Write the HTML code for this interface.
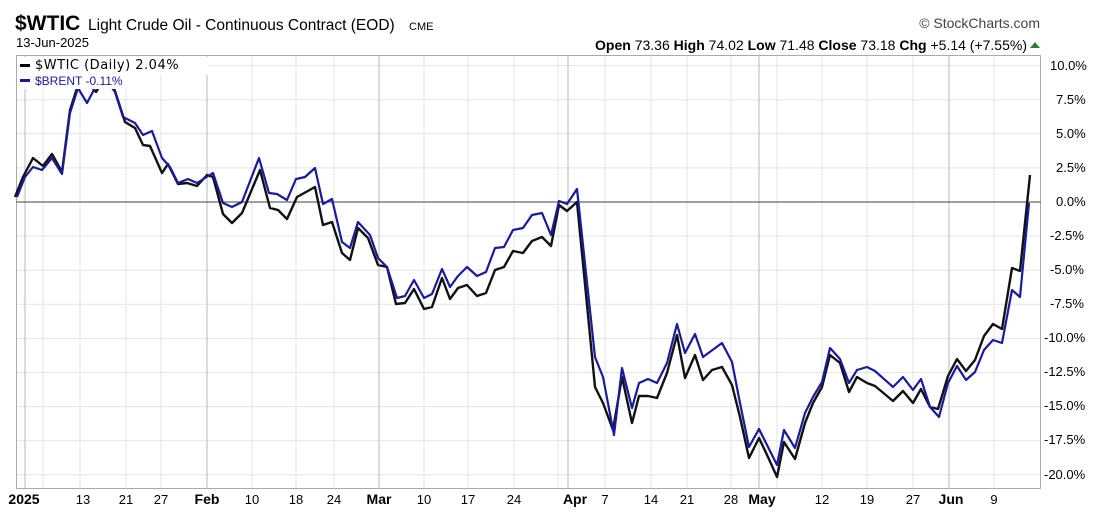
<!DOCTYPE html>
<html><head><meta charset="utf-8"><style>
html,body{margin:0;padding:0;background:#fff;}
svg{display:block;font-family:"Liberation Sans",Arial,sans-serif;}
</style></head><body>
<svg width="1116" height="512" viewBox="0 0 1116 512" xmlns="http://www.w3.org/2000/svg">
<rect width="1116" height="512" fill="#fff"/>
<text x="15" y="30" font-size="21" font-weight="bold" fill="#000">$WTIC</text>
<text x="88" y="30" font-size="15.5" fill="#000">Light Crude Oil - Continuous Contract (EOD)</text>
<text x="409" y="30" font-size="11" fill="#000">CME</text>
<text x="16" y="47" font-size="13" fill="#000">13-Jun-2025</text>
<text x="1040" y="28" font-size="14" fill="#444" text-anchor="end">© StockCharts.com</text>
<text x="1027" y="50" font-size="14" fill="#000" text-anchor="end"><tspan font-weight="bold">Open</tspan> 73.36  <tspan font-weight="bold">High</tspan> 74.02  <tspan font-weight="bold">Low</tspan> 71.48  <tspan font-weight="bold">Close</tspan> 73.18  <tspan font-weight="bold">Chg</tspan> +5.14 (+7.55%)</text>
<polygon points="1030,48 1040,48 1035,42" fill="#2e7d32"/>
<g stroke="#e3e3e3" stroke-width="1">
<line x1="16" x2="1041" y1="65.6" y2="65.6"/><line x1="16" x2="1041" y1="99.7" y2="99.7"/><line x1="16" x2="1041" y1="133.8" y2="133.8"/><line x1="16" x2="1041" y1="167.9" y2="167.9"/>
<line x1="16" x2="1041" y1="236.1" y2="236.1"/><line x1="16" x2="1041" y1="270.2" y2="270.2"/><line x1="16" x2="1041" y1="304.3" y2="304.3"/><line x1="16" x2="1041" y1="338.4" y2="338.4"/><line x1="16" x2="1041" y1="372.5" y2="372.5"/><line x1="16" x2="1041" y1="406.6" y2="406.6"/><line x1="16" x2="1041" y1="440.7" y2="440.7"/><line x1="16" x2="1041" y1="474.8" y2="474.8"/>
<line x1="43" x2="43" y1="55" y2="489"/><line x1="80" x2="80" y1="55" y2="489"/><line x1="126" x2="126" y1="55" y2="489"/><line x1="161" x2="161" y1="55" y2="489"/><line x1="252" x2="252" y1="55" y2="489"/><line x1="296" x2="296" y1="55" y2="489"/><line x1="334" x2="334" y1="55" y2="489"/><line x1="424" x2="424" y1="55" y2="489"/><line x1="468" x2="468" y1="55" y2="489"/><line x1="514" x2="514" y1="55" y2="489"/><line x1="558" x2="558" y1="55" y2="489"/><line x1="605" x2="605" y1="55" y2="489"/><line x1="651" x2="651" y1="55" y2="489"/><line x1="687" x2="687" y1="55" y2="489"/><line x1="731" x2="731" y1="55" y2="489"/><line x1="777" x2="777" y1="55" y2="489"/><line x1="822" x2="822" y1="55" y2="489"/><line x1="867" x2="867" y1="55" y2="489"/><line x1="913" x2="913" y1="55" y2="489"/><line x1="994" x2="994" y1="55" y2="489"/>
</g>
<g stroke="#c4c4c4" stroke-width="1.2">
<line x1="25" x2="25" y1="55" y2="489"/><line x1="207" x2="207" y1="55" y2="489"/><line x1="379" x2="379" y1="55" y2="489"/><line x1="568" x2="568" y1="55" y2="489"/><line x1="759" x2="759" y1="55" y2="489"/><line x1="949" x2="949" y1="55" y2="489"/>
</g>
<rect x="16.5" y="55.5" width="1024" height="433" fill="none" stroke="#aaa"/>
<line x1="16" x2="1041" y1="202" y2="202" stroke="#666" stroke-width="1.3"/>
<polyline fill="none" stroke="#111" stroke-width="2.4" stroke-linejoin="round" points="15,197 23,177 33,158 43,166 52,154 62,172 70,110 78,85 87,82 96,92 106,76 114,88 125,122 135,128 143,145 150,146 162,173 168,164 178,184 187,183 197,186 207,175 213,177 223,214 232,223 242,213 260,170 270,208 278,210 287,219 297,197 315,187 323,225 332,222 342,253 350,260 358,228 368,238 378,265 387,267 396,304 405,303 414,289 424,309 432,307 442,278 450,299 458,288 467,285 477,296 486,293 495,270 504,267 513,251 523,253 532,241 542,237 551,246 559,205 567,211 577,202 595,387 603,403 613,430 622,377 632,423 639,396 648,396 657,398 667,373 677,335 685,378 695,355 703,380 712,370 722,367 732,385 740,417 749,458 759,438 768,457 777,477 784,442 795,459 805,423 813,403 822,387 830,355 840,363 849,392 857,377 867,383 875,386 893,401 903,391 913,403 921,389 930,407 938,409 948,376 957,359 966,371 975,360 984,336 993,324 1002,329 1012,268 1020,271 1030,175"/>
<polyline fill="none" stroke="#1a1a9c" stroke-width="2.2" stroke-linejoin="round" points="17,197 25,177 33,167 42,170 52,158 62,174 70,113 78,88 87,103 96,86 106,80 115,92 123,117 135,123 143,135 152,131 162,158 170,167 178,183 188,179 197,183 213,173 223,203 232,207 242,202 259,158 269,193 277,194 287,200 296,179 305,177 315,168 323,204 332,199 342,242 350,248 358,222 370,235 378,258 387,267 397,298 405,296 414,280 424,298 432,294 442,269 450,287 458,276 467,267 477,276 486,272 495,248 504,247 513,230 523,228 532,215 542,213 551,235 559,201 567,204 577,189 595,357 603,377 614,435 622,368 632,408 639,383 648,379 657,383 667,363 677,324 685,353 695,334 703,357 722,343 732,362 740,403 749,447 759,429 777,465 784,430 795,448 805,413 813,397 822,382 830,348 840,359 849,383 857,370 867,367 875,371 893,387 903,377 913,390 921,379 930,407 939,417 948,383 957,366 966,380 975,372 984,350 993,340 1002,343 1012,290 1020,297 1029,203"/>
<rect x="18" y="57" width="190" height="18" fill="#fff"/>
<rect x="18" y="75" width="140" height="14" fill="#fff"/>
<rect x="20" y="64" width="10" height="3" fill="#000"/>
<text x="35" y="69" font-size="13" fill="#000" font-family="DejaVu Sans, sans-serif" letter-spacing="0.5">$WTIC (Daily) 2.04%</text>
<rect x="20" y="79" width="10" height="3" fill="#1a1a9c"/>
<text x="35" y="85" font-size="12" fill="#1a1a9c">$BRENT -0.11%</text>
<g font-size="13" fill="#000">
<text x="1050" y="70">10.0%</text><text x="1056" y="104">7.5%</text><text x="1056" y="138">5.0%</text><text x="1056" y="172">2.5%</text><text x="1056" y="206">0.0%</text>
<text x="1050" y="240">-2.5%</text><text x="1050" y="274">-5.0%</text><text x="1050" y="308">-7.5%</text><text x="1044" y="342">-10.0%</text><text x="1044" y="376">-12.5%</text><text x="1044" y="410">-15.0%</text><text x="1044" y="444">-17.5%</text><text x="1044" y="479">-20.0%</text>
</g>
<g font-size="13" fill="#000" text-anchor="middle">
<text x="24" y="504" font-weight="bold" font-size="14">2025</text>
<text x="83" y="504">13</text><text x="126" y="504">21</text><text x="161" y="504">27</text>
<text x="207" y="504" font-weight="bold" font-size="14">Feb</text>
<text x="252" y="504">10</text><text x="296" y="504">18</text><text x="334" y="504">24</text>
<text x="379" y="504" font-weight="bold" font-size="14">Mar</text>
<text x="424" y="504">10</text><text x="468" y="504">17</text><text x="514" y="504">24</text>
<text x="575" y="504" font-weight="bold" font-size="14">Apr</text>
<text x="605" y="504">7</text><text x="651" y="504">14</text><text x="687" y="504">21</text><text x="731" y="504">28</text>
<text x="762" y="504" font-weight="bold" font-size="14">May</text>
<text x="822" y="504">12</text><text x="867" y="504">19</text><text x="913" y="504">27</text>
<text x="951" y="504" font-weight="bold" font-size="14">Jun</text>
<text x="994" y="504">9</text>
</g>
</svg>
</body></html>
